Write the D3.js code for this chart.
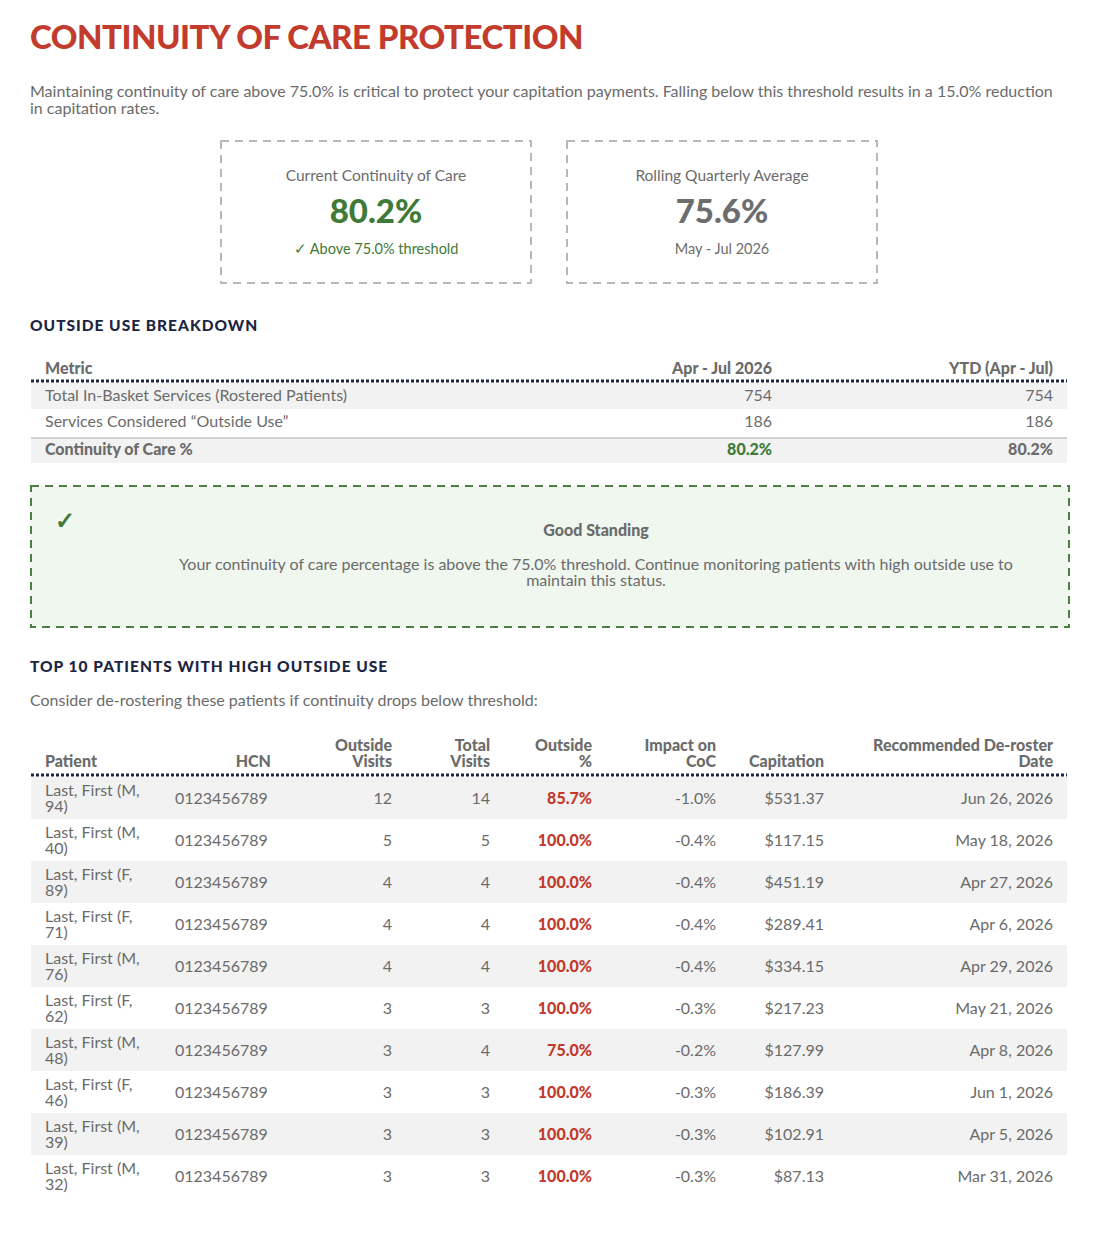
<!DOCTYPE html>
<html><head><meta charset="utf-8">
<script src="https://cdn.jsdelivr.net/npm/d3@7"></script>
<style>body{margin:0;background:#fff}svg{display:block;font-family:Lato,sans-serif}</style>
</head><body>
<script>
const cards = [
  {label:"Current Continuity of Care", value:"80.2%", sub:"✓ Above 75.0% threshold", color:"#3f7a36", subColor:"#3f7a36"},
  {label:"Rolling Quarterly Average", value:"75.6%", sub:"May - Jul 2026", color:"#6d6d6d", subColor:"#6d6d6d"}
];
const breakdownHeaders = ["Metric","Apr - Jul 2026","YTD (Apr - Jul)"];
const breakdownRows = [
  ["Total In-Basket Services (Rostered Patients)","754","754"],
  ["Services Considered “Outside Use”","186","186"],
  ["Continuity of Care %","80.2%","80.2%"]
];
const patientHeaders = [["Patient"],["HCN"],["Outside","Visits"],["Total","Visits"],["Outside","%"],["Impact on","CoC"],["Capitation"],["Recommended De-roster","Date"]];
const patients = ["Last, First (M, 94)","Last, First (M, 40)","Last, First (F, 89)","Last, First (F, 71)","Last, First (M, 76)","Last, First (F, 62)","Last, First (M, 48)","Last, First (F, 46)","Last, First (M, 39)","Last, First (M, 32)"];
const hcn = Array(10).fill("0123456789");
const outsideVisits = [12,5,4,4,4,3,3,3,3,3];
const totalVisits = [14,5,4,4,4,3,4,3,3,3];
const outsidePct = ["85.7%","100.0%","100.0%","100.0%","100.0%","100.0%","75.0%","100.0%","100.0%","100.0%"];
const impact = ["-1.0%","-0.4%","-0.4%","-0.4%","-0.4%","-0.3%","-0.2%","-0.3%","-0.3%","-0.3%"];
const capitation = ["$531.37","$117.15","$451.19","$289.41","$334.15","$217.23","$127.99","$186.39","$102.91","$87.13"];
const derosterDate = ["Jun 26, 2026","May 18, 2026","Apr 27, 2026","Apr 6, 2026","Apr 29, 2026","May 21, 2026","Apr 8, 2026","Jun 1, 2026","Apr 5, 2026","Mar 31, 2026"];

const W=1104,H=1238, gray="#6b6b6b", navy="#1c2541", red="#c23b2c", green="#3f7a36";
const svg=d3.select("body").append("svg").attr("width",W).attr("height",H);
function txt(x,y,s,o={}){return svg.append("text").attr("x",x).attr("y",y).text(s)
  .attr("font-size",o.size||16).attr("font-weight",o.weight||400).attr("fill",o.fill||gray)
  .attr("text-anchor",o.anchor||"start");}

txt(30,49,"CONTINUITY OF CARE PROTECTION",{size:33,weight:900,fill:red}).attr("letter-spacing","-0.5");
txt(30,97,"Maintaining continuity of care above 75.0% is critical to protect your capitation payments. Falling below this threshold results in a 15.0% reduction");
txt(30,114,"in capitation rates.");

const cx=d3.scaleOrdinal().domain([0,1]).range([221,567]);
cards.forEach((c,i)=>{const x=cx(i);
  svg.append("rect").attr("x",x).attr("y",141).attr("width",310).attr("height",142).attr("fill","none")
    .attr("stroke","#b8b8b8").attr("stroke-width",2).attr("stroke-dasharray","8,6");
  txt(x+155,181,c.label,{anchor:"middle",size:15.5});
  txt(x+155,223,c.value,{anchor:"middle",size:33,weight:900,fill:c.color});
  txt(x+155,254,c.sub,{anchor:"middle",size:14.5,fill:c.subColor});
});

txt(30,331,"OUTSIDE USE BREAKDOWN",{size:15.5,weight:900,fill:navy}).attr("letter-spacing","1");
const bx=[45,772,1053], ba=["start","end","end"];
const by=d3.scaleBand().domain(d3.range(breakdownRows.length)).range([383,461]);
breakdownHeaders.forEach((h,j)=>txt(bx[j],374,h,{weight:900,anchor:ba[j]}));
svg.append("line").attr("x1",31).attr("x2",1067).attr("y1",381).attr("y2",381).attr("stroke",navy).attr("stroke-width",3).attr("stroke-dasharray","3,2");
breakdownRows.forEach((r,i)=>{
  const y=by(i)+(i==2?2:0);
  if(i!==1) svg.append("rect").attr("x",31).attr("y",by(i)+(i==2?3:0)).attr("width",1036).attr("height",by.bandwidth()-(i==2?3:0)+(i==2?2:0)).attr("fill","#f2f2f2");
  if(i==2) svg.append("line").attr("x1",31).attr("x2",1067).attr("y1",by(i)+3).attr("y2",by(i)+3).attr("stroke","#aaa");
  r.forEach((v,j)=>txt(bx[j],y+by.bandwidth()/2+5,v,{weight:i==2?900:400,anchor:ba[j],fill:(i==2&&j==1)?green:gray}));
});

svg.append("rect").attr("x",31).attr("y",486).attr("width",1038).attr("height",141).attr("fill","#eff7ef")
  .attr("stroke","#4c8043").attr("stroke-width",2).attr("stroke-dasharray","8,6");
txt(55,529,"✓",{size:24,fill:green,weight:700});
txt(596,536,"Good Standing",{weight:900,anchor:"middle"});
txt(596,570,"Your continuity of care percentage is above the 75.0% threshold. Continue monitoring patients with high outside use to",{anchor:"middle"});
txt(596,586,"maintain this status.",{anchor:"middle"});

txt(30,672,"TOP 10 PATIENTS WITH HIGH OUTSIDE USE",{size:15.5,weight:900,fill:navy}).attr("letter-spacing","1");
txt(30,706,"Consider de-rostering these patients if continuity drops below threshold:");

const colX=[45,271,392,490,592,716,824,1053];
patientHeaders.forEach((h,j)=>{h.forEach((l,k)=>txt(colX[j],767-16*(h.length-1-k),l,{weight:900,anchor:j==0?"start":"end"}));});
svg.append("line").attr("x1",31).attr("x2",1067).attr("y1",775).attr("y2",775).attr("stroke",navy).attr("stroke-width",3).attr("stroke-dasharray","3,2");
const ry=d3.scaleBand().domain(d3.range(patients.length)).range([777,1197]);
patients.forEach((p,i)=>{
  const y0=ry(i), cy=y0+ry.bandwidth()/2;
  if(i%2==0) svg.append("rect").attr("x",31).attr("y",y0).attr("width",1036).attr("height",ry.bandwidth()).attr("fill","#f2f2f2");
  const m=p.match(/^(.*\(.,) (.*)$/);
  txt(45,cy-2,m[1]); txt(45,cy+14,m[2]);
  const vals=[hcn[i],outsideVisits[i],totalVisits[i],outsidePct[i],impact[i],capitation[i],derosterDate[i]];
  vals.forEach((v,k)=>{const j=k+1;
    txt(j==1?175:colX[j],cy+6,v,{anchor:j==1?"start":"end",weight:j==4?900:400,fill:j==4?red:gray});});
});
</script>
</body></html>
